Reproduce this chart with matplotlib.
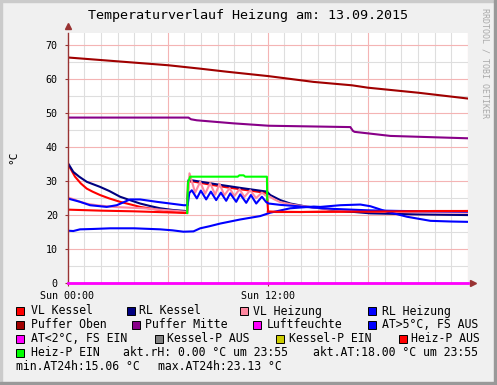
import matplotlib
matplotlib.use('Agg')
import matplotlib.pyplot as plt
import numpy as np
from matplotlib.patches import Rectangle

# values, x in hours since Sun 00:00
vl_kessel_h = [0, 0.2, 0.45, 0.8, 1.15, 1.5, 1.95, 2.5, 3.15, 3.8, 4.35, 5.0, 5.55, 6.3, 7.05, 7.17,
               7.22, 7.4, 8.5, 9.5, 10.5, 11.5, 11.95, 12.02, 12.5, 14, 16, 18, 20, 22, 24]
vl_kessel = [35.2, 33.5, 31.3, 29.3, 27.8, 26.9, 25.9, 24.9, 23.9, 23.1, 22.4, 21.9, 21.5, 21.0, 20.7, 20.6,
             29.5, 30.0, 29.0, 28.2, 27.5, 26.8, 26.4, 21.0, 20.9, 20.9, 21.0, 21.0, 21.1, 21.1, 21.2]

rl_kessel_h = [0, 0.35, 0.7, 1.15, 1.95, 2.5, 3.15, 3.8, 4.35, 5.0, 5.55, 6.3, 7.05, 7.17, 7.25, 7.5,
               9, 10.5, 11.95, 12.15, 12.75, 13.35, 14.2, 15.15, 16.5, 18.15, 21, 24]
rl_kessel = [35.5, 32.7, 31.3, 29.8, 28.3, 27.1, 25.4, 24.3, 23.4, 22.6, 22.0, 21.5, 21.2, 21.1, 30.3, 30.2,
             29.0, 27.9, 26.9, 25.9, 24.4, 23.4, 22.6, 22.0, 21.2, 20.5, 20.2, 20.0]

vl_heizung_h = [0, 0.4, 0.75, 1.2, 1.75, 2.75, 3.6, 4.55, 5.5, 6.3, 7.05, 7.17, 7.31, 7.65, 7.95, 8.25,
                8.55, 8.85, 9.11, 9.4, 9.71, 10.0, 10.31, 10.6, 10.95, 11.3, 11.65, 11.95, 12.05, 12.4,
                12.75, 13.55, 14.75, 16, 18, 20, 22, 24]
vl_heizung = [25.2, 24.6, 23.9, 23.3, 22.9, 22.4, 22.2, 22.0, 21.6, 21.3, 21.0, 21.0, 32.3, 26.6, 29.8, 26.3,
              29.4, 26.0, 29.2, 25.8, 27.9, 25.6, 27.6, 25.3, 27.3, 25.0, 26.6, 25.5, 25.6, 24.6,
              23.8, 23.0, 22.2, 21.6, 21.1, 20.9, 20.8, 20.7]

rl_heizung_h = [0, 0.75, 1.35, 2.35, 2.95, 3.75, 4.35, 5.35, 6.95, 7.2, 7.3, 7.45, 7.75, 7.99, 8.31, 8.59,
                8.91, 9.19, 9.51, 9.75, 10.11, 10.35, 10.71, 10.99, 11.31, 11.65, 11.91, 12.05, 12.4,
                12.75, 13.55, 14.75, 16, 18, 20, 22, 24]
rl_heizung = [24.9, 23.9, 22.9, 22.4, 22.9, 24.6, 24.6, 23.9, 22.9, 22.9, 26.5, 27.3, 24.9, 27.2, 24.6, 26.9,
              24.4, 26.6, 24.2, 26.4, 23.9, 26.1, 23.6, 25.9, 23.4, 25.4, 23.8, 23.4, 23.2,
              23.0, 22.7, 22.2, 21.8, 21.4, 21.2, 21.1, 21.0]

puffer_oben_h = [0, 6.05, 7.95, 9.55, 12.05, 14.75, 17.05, 18, 21.05, 24]
puffer_oben = [66.4, 64.1, 63.1, 62.2, 60.9, 59.2, 58.2, 57.5, 56.0, 54.3]

puffer_mitte_h = [0, 7.25, 7.4, 7.75, 9.95, 12.05, 16.95, 17.1, 17.2, 19.35, 24]
puffer_mitte = [48.7, 48.7, 48.2, 47.9, 47.0, 46.3, 45.9, 44.8, 44.5, 43.3, 42.6]

luftfeuchte_h = [0, 24]
luftfeuchte = [0.0, 0.0]

aussen_h = [0, 0.35, 0.75, 1.5, 2.55, 4, 5.55, 6.3, 6.95, 7.55, 7.95, 8.5, 9.15, 10.35, 11.55, 12.15,
            13.35, 14.75, 15.15, 16.35, 17.55, 18.15, 19.15, 20.35, 21.75, 23, 24]
aussen = [15.4, 15.3, 15.8, 15.9, 16.1, 16.1, 15.8, 15.5, 15.1, 15.2, 16.1, 16.7, 17.5, 18.7, 19.7, 20.7,
          22.0, 22.5, 22.4, 22.9, 23.1, 22.6, 21.0, 19.5, 18.3, 18.1, 18.0]

heizp_aus_h = [0, 2, 4, 6, 7.17, np.nan, 12.0, 14, 16, 18, 20, 22, 24]
heizp_aus = [21.6, 21.3, 21.1, 20.8, 20.6, np.nan, 21.0, 20.9, 21.0, 21.0, 21.1, 21.2, 21.2]

heizp_ein_h = [7.17, 7.22, 7.35, 10.2, 10.3, 10.55, 10.65, 11.95, 11.97]
heizp_ein = [20.6, 29.5, 31.3, 31.3, 31.7, 31.7, 31.3, 31.3, 24.5]

legend_labels = ['VL Kessel', 'RL Kessel', 'VL Heizung', 'RL Heizung',
                 'Puffer Oben', 'Puffer Mitte', 'Luftfeuchte', 'AT>5°C, FS AUS',
                 'AT<2°C, FS EIN', 'Kessel-P AUS', 'Kessel-P EIN', 'Heiz-P AUS',
                 'Heiz-P EIN']
legend_colors = ['#FF0000', '#000080', '#FF88A0', '#0000FF',
                 '#A00000', '#880088', '#FF00FF', '#0000FF',
                 '#FF00FF', '#808080', '#CCCC00', '#FF0000',
                 '#00FF00']
info_texts = ['akt.rH: 0.00 °C um 23:55', 'akt.AT:18.00 °C um 23:55',
              'min.AT24h:15.06 °C', 'max.AT24h:23.13 °C']

W, H = 497, 385
plt.rcParams['font.family'] = ['DejaVu Sans Mono', 'DejaVu Sans']
fig = plt.figure(figsize=(W / 100, H / 100), dpi=100, facecolor='#F0F0F0')

# border shading like rrdtool
fig.patches.append(Rectangle((0, 1 - 2 / H), 1, 2 / H, transform=fig.transFigure, color='#CBCBCB', zorder=0))
fig.patches.append(Rectangle((0, 0), 2 / W, 1, transform=fig.transFigure, color='#CBCBCB', zorder=0))
fig.patches.append(Rectangle((0, 0), 1, 3 / H, transform=fig.transFigure, color='#999999', zorder=0))
fig.patches.append(Rectangle((1 - 3 / W, 0), 3 / W, 1, transform=fig.transFigure, color='#999999', zorder=0))

ax = fig.add_axes([67.5 / W, 1 - 283 / H, 400.5 / W, 250 / H])
ax.set_facecolor('white')
ax.set_xlim(0, 24)
ax.set_ylim(0, 73.6)

# grid
for hh in range(1, 25):
    c = '#F4B4B4' if hh % 6 == 0 else '#DEDEDE'
    ax.axvline(hh, color=c, lw=0.8, zorder=0)
for yy in range(5, 75, 5):
    c = '#F4B4B4' if yy % 10 == 0 else '#DEDEDE'
    ax.axhline(yy, color=c, lw=0.8, zorder=0)

lw = 1.5
ax.plot(vl_kessel_h, vl_kessel, color=legend_colors[0], lw=lw)
ax.plot(rl_kessel_h, rl_kessel, color=legend_colors[1], lw=lw)
ax.plot(vl_heizung_h, vl_heizung, color=legend_colors[2], lw=lw)
ax.plot(rl_heizung_h, rl_heizung, color=legend_colors[3], lw=lw)
ax.plot(puffer_oben_h, puffer_oben, color=legend_colors[4], lw=lw)
ax.plot(puffer_mitte_h, puffer_mitte, color=legend_colors[5], lw=lw)
ax.plot(luftfeuchte_h, luftfeuchte, color=legend_colors[6], lw=2, clip_on=False, zorder=3)
ax.plot(aussen_h, aussen, color=legend_colors[7], lw=lw)
ax.plot(heizp_aus_h, heizp_aus, color=legend_colors[11], lw=lw)
ax.plot(heizp_ein_h, heizp_ein, color=legend_colors[12], lw=lw)

for s in ['top', 'right']:
    ax.spines[s].set_visible(False)
for s in ['left', 'bottom']:
    ax.spines[s].set_color('#993333')
    ax.spines[s].set_linewidth(1)
ax.plot([0], [1.03], marker='^', color='#993333', ms=4, transform=ax.transAxes, clip_on=False)
ax.plot([1.012], [0], marker='>', color='#993333', ms=4, transform=ax.transAxes, clip_on=False)

ax.set_yticks(range(0, 71, 10))
ax.set_yticklabels([str(v) for v in range(0, 71, 10)])
ax.set_xticks([0, 12])
ax.set_xticklabels(['Sun 00:00', 'Sun 12:00'])
ax.tick_params(axis='both', labelsize=7.2, length=2, color='#993333', pad=5)
ax.tick_params(axis='x', pad=4)

fig.text(0.5, 1 - 16 / H, 'Temperaturverlauf Heizung am: 13.09.2015', ha='center', va='center', fontsize=9.6)
fig.text(13 / W, 1 - 157 / H, '°C', rotation=90, ha='center', va='center', fontsize=8)
fig.text(485 / W, 1 - 63 / H, 'RRDTOOL / TOBI OETIKER', rotation=270, ha='center', va='center',
         fontsize=6, color='#AAAAAA')

# legend layout (pixel positions)
rows_y = [311, 325, 339, 353, 367]
box_x = [16, 127, 240, 368, 16, 132, 253, 368, 16, 155, 276, 399, 16]
text_x = [31, 139, 253, 382, 31, 145, 267, 382, 31, 167, 289, 411, 31]
for i, (lab, col) in enumerate(zip(legend_labels, legend_colors)):
    ry = rows_y[i // 4]
    fig.patches.append(Rectangle((box_x[i] / W, 1 - (ry + 4) / H), 8 / W, 8 / H, transform=fig.transFigure,
                                 facecolor=col, edgecolor='black', lw=0.7))
    fig.text(text_x[i] / W, 1 - ry / H, lab, ha='left', va='center', fontsize=8.3)

info_x = [123, 313, 16, 158]
info_y = [353, 353, 367, 367]
for t, x, y in zip(info_texts, info_x, info_y):
    fig.text(x / W, 1 - y / H, t, ha='left', va='center', fontsize=8.3)

fig.savefig('out.png', dpi=100, facecolor=fig.get_facecolor())
